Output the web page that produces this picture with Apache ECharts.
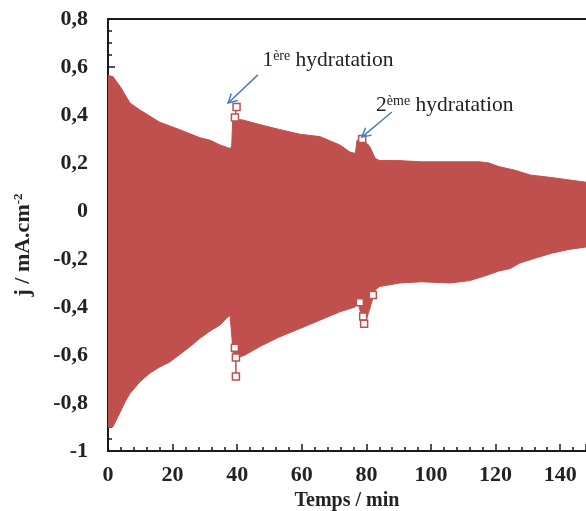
<!DOCTYPE html>
<html><head><meta charset="utf-8">
<script src="https://cdn.jsdelivr.net/npm/echarts@6/dist/echarts.min.js"></script>
<style>html,body{margin:0;padding:0;background:#fff}#c{width:586px;height:511px}</style>
</head><body><div id="c"></div>
<script>
// Upper envelope of the oscillating current (time in min, j in mA.cm-2)
var upperT = [0, 1.5, 3.7, 6.8, 10, 16, 22, 28.5, 31.6, 34.7, 37.8, 38.3, 38.6, 41.5, 47, 53, 59.4, 65.6, 71.8, 75, 76.6, 77.1, 79.5, 81, 82.7, 84, 90, 97, 106, 115, 118, 121, 126, 130.7, 137, 148];
var upperV = [0.565, 0.56, 0.52, 0.45, 0.42, 0.37, 0.34, 0.305, 0.295, 0.275, 0.26, 0.27, 0.38, 0.38, 0.36, 0.34, 0.32, 0.31, 0.275, 0.245, 0.24, 0.295, 0.29, 0.27, 0.22, 0.21, 0.21, 0.205, 0.205, 0.205, 0.2, 0.185, 0.17, 0.15, 0.14, 0.12];
// Lower envelope
var lowerT = [0, 1.5, 3.7, 5.3, 6.8, 10, 13, 16, 19, 22, 25.4, 28.5, 31.6, 34.7, 36.8, 37.8, 38.3, 38.8, 40.5, 42.4, 47, 53, 59.4, 65.6, 71.8, 76.5, 77.2, 78.5, 80, 81, 82.7, 84, 90.4, 97, 106, 112, 118, 121, 124.5, 127.5, 132.6, 137.6, 142.8, 148];
var lowerV = [-0.9, -0.9, -0.84, -0.795, -0.76, -0.71, -0.675, -0.65, -0.63, -0.6, -0.565, -0.53, -0.5, -0.475, -0.445, -0.435, -0.44, -0.6, -0.61, -0.6, -0.565, -0.525, -0.49, -0.455, -0.42, -0.4, -0.37, -0.44, -0.45, -0.41, -0.33, -0.315, -0.3, -0.295, -0.3, -0.29, -0.265, -0.25, -0.24, -0.217, -0.195, -0.175, -0.16, -0.15];
// Marked points around the two hydrations (null = gap)
var markT = [39.8, 39.3, 39.3, 39.6, 39.6, null, 78.7, 78.0, 79.0, 79.3, null, 82.0];
var markV = [0.433, 0.39, -0.57, -0.61, -0.69, null, 0.30, -0.38, -0.44, -0.47, null, -0.35];
// Axis settings
var xTicks = {min: 0, max: 148, step: 20};
var yTicks = {min: -1, max: 0.8, step: 0.2};
var annotations = [
  {label: '1{s|ère} hydratation', textAt: [47.8, 0.626], from: [46.4, 0.567], to: [37.2, 0.45]},
  {label: '2{s|ème} hydratation', textAt: [83.0, 0.44], from: [87.9, 0.4125], to: [78.6, 0.308]}
];

var RED = '#c0504d';
function pairs(t, v) { return t.map(function (x, i) { return x === null ? [null, null] : [x, v[i]]; }); }
function fmt(v) { return String(+v.toFixed(1)).replace('.', ','); }
var serif = 'Liberation Serif';
var chart = echarts.init(document.getElementById('c'), null, {renderer: 'canvas'});
var axisColor = '#1a1a1a';
chart.setOption({
  animation: false,
  grid: {left: 108, right: 0, top: 19, bottom: 60, containLabel: false, outerBoundsMode: 'none'},
  xAxis: [{
    type: 'value', min: xTicks.min, max: xTicks.max, interval: xTicks.step,
    axisLine: {onZero: false, lineStyle: {color: axisColor, width: 2}},
    axisTick: {inside: true, length: 7, lineStyle: {color: axisColor, width: 1.5}},
    minorTick: {show: true, splitNumber: 5, length: 4, lineStyle: {color: axisColor, width: 1.5}},
    splitLine: {show: false},
    axisLabel: {showMaxLabel: false, margin: 13, fontFamily: serif, fontWeight: 'bold', fontSize: 22, color: '#222'},
    name: 'Temps / min', nameLocation: 'middle', nameGap: 26,
    nameTextStyle: {fontFamily: serif, fontWeight: 'bold', fontSize: 20, color: '#222'}
  }, {
    type: 'value', position: 'top', min: xTicks.min, max: xTicks.max,
    axisLine: {show: true, onZero: false, lineStyle: {color: axisColor, width: 2}},
    axisTick: {show: false}, axisLabel: {show: false}, splitLine: {show: false}
  }],
  yAxis: {
    type: 'value', min: yTicks.min, max: yTicks.max, interval: yTicks.step,
    axisLine: {show: true, onZero: false, lineStyle: {color: axisColor, width: 2}},
    axisTick: {show: true, inside: true, length: 7, lineStyle: {color: axisColor, width: 1.5}},
    minorTick: {show: true, splitNumber: 4, length: 4, lineStyle: {color: axisColor, width: 1.5}},
    splitLine: {show: false},
    axisLabel: {margin: 20, formatter: fmt, fontFamily: serif, fontWeight: 'bold', fontSize: 22, color: '#222'},
    name: '{a|j / mA.cm}{s|-2}', nameLocation: 'middle', nameRotate: 90, nameGap: 74,
    nameTextStyle: {
      padding: [0, 20, 0, 0],
      rich: {
        a: {fontFamily: serif, fontWeight: 'bold', fontSize: 22, color: '#222'},
        s: {fontFamily: serif, fontWeight: 'bold', fontSize: 13, color: '#222', verticalAlign: 'top'}
      }
    }
  },
  series: [{
    type: 'line', data: pairs(upperT, upperV), showSymbol: false, symbol: 'none',
    lineStyle: {color: RED, width: 1}, areaStyle: {color: RED, opacity: 1, origin: -0.03}, z: 2
  }, {
    type: 'line', data: pairs(lowerT, lowerV), showSymbol: false, symbol: 'none',
    lineStyle: {color: RED, width: 1}, areaStyle: {color: RED, opacity: 1, origin: 0.03}, z: 2
  }, {
    type: 'line', data: pairs(markT, markV), connectNulls: false,
    symbol: 'rect', symbolSize: 7, showAllSymbol: true,
    itemStyle: {color: '#fff', borderColor: RED, borderWidth: 1.5},
    lineStyle: {color: RED, width: 1.5}, z: 3
  }]
});

var g = [];
annotations.forEach(function (a) {
  var p0 = chart.convertToPixel({xAxisIndex: 0, yAxisIndex: 0}, a.from);
  var p1 = chart.convertToPixel({xAxisIndex: 0, yAxisIndex: 0}, a.to);
  var pt = chart.convertToPixel({xAxisIndex: 0, yAxisIndex: 0}, a.textAt);
  var ang = Math.atan2(p1[1] - p0[1], p1[0] - p0[0]);
  var L = 10, w = 0.5;
  var h1 = [p1[0] - L * Math.cos(ang - w), p1[1] - L * Math.sin(ang - w)];
  var h2 = [p1[0] - L * Math.cos(ang + w), p1[1] - L * Math.sin(ang + w)];
  g.push({type: 'line', shape: {x1: p0[0], y1: p0[1], x2: p1[0], y2: p1[1]}, style: {stroke: '#4a7ebb', lineWidth: 1.5}, z: 10});
  g.push({type: 'polyline', shape: {points: [h1, p1, h2]}, style: {stroke: '#4a7ebb', lineWidth: 1.5, fill: null}, z: 10});
  g.push({type: 'text', x: pt[0], y: pt[1], z: 10, style: {
    text: a.label, fill: '#222', verticalAlign: 'middle', align: 'left',
    font: '21.5px "Liberation Serif"',
    rich: {s: {fontSize: 14, fontFamily: serif, fill: '#222', verticalAlign: 'top'}}
  }});
});
chart.setOption({graphic: g});
</script></body></html>
